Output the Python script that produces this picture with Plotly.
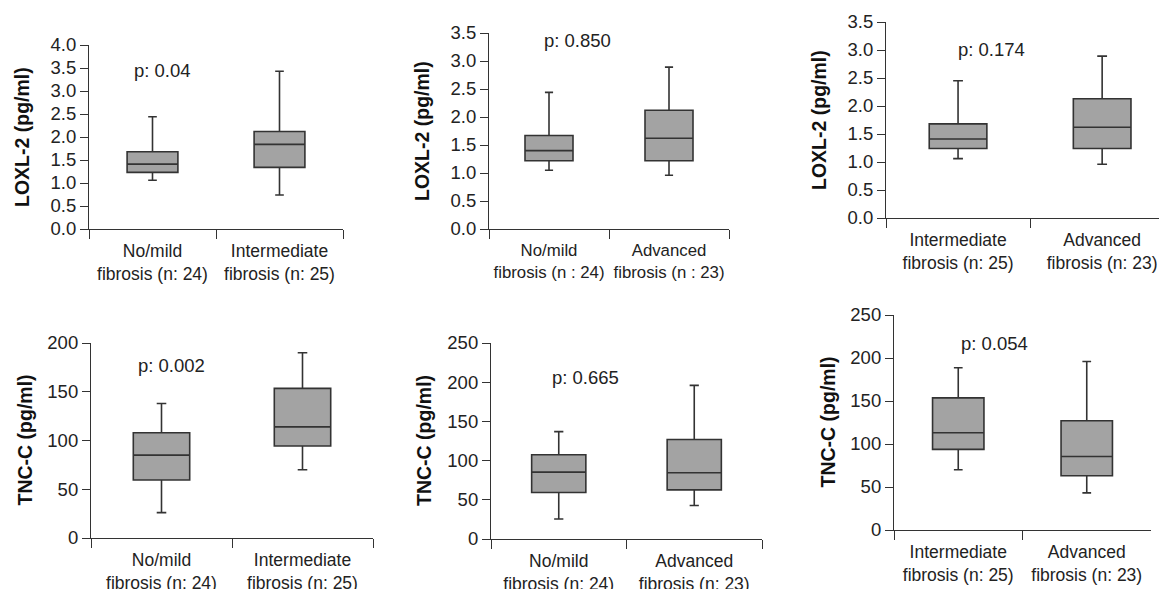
import plotly.graph_objects as go

# ---------------- data ----------------
cats_nm_int = ["No/mild<br>fibrosis (n: 24)", "Intermediate<br>fibrosis (n: 25)"]
cats_nm_adv_top = ["No/mild<br>fibrosis (n : 24)", "Advanced<br>fibrosis (n : 23)"]
cats_nm_adv_bot = ["No/mild<br>fibrosis (n: 24)", "Advanced<br>fibrosis (n: 23)"]
cats_int_adv = ["Intermediate<br>fibrosis (n: 25)", "Advanced<br>fibrosis (n: 23)"]

# LOXL-2 (pg/ml)
loxl_a_low = [1.06, 0.74]
loxl_a_q1 = [1.23, 1.34]
loxl_a_med = [1.41, 1.84]
loxl_a_q3 = [1.68, 2.12]
loxl_a_high = [2.44, 3.43]

loxl_b_low = [1.05, 0.96]
loxl_b_q1 = [1.22, 1.22]
loxl_b_med = [1.40, 1.62]
loxl_b_q3 = [1.67, 2.12]
loxl_b_high = [2.44, 2.89]

loxl_c_low = [1.06, 0.96]
loxl_c_q1 = [1.24, 1.24]
loxl_c_med = [1.41, 1.62]
loxl_c_q3 = [1.68, 2.13]
loxl_c_high = [2.45, 2.89]

# TNC-C (pg/ml)
tnc_a_low = [26, 70]
tnc_a_q1 = [59.5, 94.4]
tnc_a_med = [85, 114]
tnc_a_q3 = [108, 153.5]
tnc_a_high = [138, 190]

tnc_b_low = [25.6, 42.7]
tnc_b_q1 = [59.3, 62.7]
tnc_b_med = [85.3, 84.5]
tnc_b_q3 = [107.5, 127]
tnc_b_high = [137, 196]

tnc_c_low = [70, 43.2]
tnc_c_q1 = [93.7, 63]
tnc_c_med = [113, 85.5]
tnc_c_q3 = [153.6, 127]
tnc_c_high = [188.6, 196]

p_texts = ["p: 0.04", "p: 0.850", "p: 0.174", "p: 0.002", "p: 0.665", "p: 0.054"]
p_y = [3.44, 3.37, 3.0, 177, 206.5, 216.6]
p_x = [0.075, 0.24, 0.23, 0.07, 0.20, 0.28]

loxl_ticks = [0.0, 0.5, 1.0, 1.5, 2.0, 2.5, 3.0, 3.5, 4.0]
tnc_ticks = [0, 50, 100, 150, 200, 250]

# ---------------- layout helpers ----------------
OFF = 8  # default page body margin of the browser
W, H = 1167 - OFF, 589 - OFF
FONT = "Liberation Sans, Arial, Helvetica, sans-serif"
LINE = "#333333"

panels = [
    dict(cats=cats_nm_int, low=loxl_a_low, q1=loxl_a_q1, med=loxl_a_med, q3=loxl_a_q3, high=loxl_a_high,
         yr=[0, 4.0], ticks=loxl_ticks[:9], title="LOXL-2 (pg/ml)", fmt=".1f",
         px=(89, 343), py=(45, 229), xr=[-0.5, 1.5], xfs=17.5),
    dict(cats=cats_nm_adv_top, low=loxl_b_low, q1=loxl_b_q1, med=loxl_b_med, q3=loxl_b_q3, high=loxl_b_high,
         yr=[0, 3.5], ticks=loxl_ticks[:8], title="LOXL-2 (pg/ml)", fmt=".1f",
         px=(489, 729), py=(33, 229), xr=[-0.5, 1.5], xfs=16.8),
    dict(cats=cats_int_adv, low=loxl_c_low, q1=loxl_c_q1, med=loxl_c_med, q3=loxl_c_q3, high=loxl_c_high,
         yr=[0, 3.5], ticks=loxl_ticks[:8], title="LOXL-2 (pg/ml)", fmt=".1f",
         px=(886, 1167), py=(22, 218), xr=[-0.5, 1.45], xfs=17.5),
    dict(cats=cats_nm_int, low=tnc_a_low, q1=tnc_a_q1, med=tnc_a_med, q3=tnc_a_q3, high=tnc_a_high,
         yr=[0, 200], ticks=tnc_ticks[:5], title="TNC-C (pg/ml)", fmt="d",
         px=(91, 373), py=(343, 538), xr=[-0.5, 1.5], xfs=17.5),
    dict(cats=cats_nm_adv_bot, low=tnc_b_low, q1=tnc_b_q1, med=tnc_b_med, q3=tnc_b_q3, high=tnc_b_high,
         yr=[0, 250], ticks=tnc_ticks, title="TNC-C (pg/ml)", fmt="d",
         px=(491, 762), py=(343, 539), xr=[-0.5, 1.5], xfs=17.5),
    dict(cats=cats_int_adv, low=tnc_c_low, q1=tnc_c_q1, med=tnc_c_med, q3=tnc_c_q3, high=tnc_c_high,
         yr=[0, 250], ticks=tnc_ticks, title="TNC-C (pg/ml)", fmt="d",
         px=(894, 1151), py=(315, 530), xr=[-0.5, 1.5], xfs=17.5),
]

fig = go.Figure()
annotations = []
layout = dict(
    width=W, height=H,
    margin=dict(l=0, r=0, t=0, b=0, autoexpand=False),
    paper_bgcolor="white", plot_bgcolor="white",
    showlegend=False,
    font=dict(family=FONT, size=16, color="#222222"),
)

for i, p in enumerate(panels):
    n = i + 1
    xa = "x" if n == 1 else f"x{n}"
    ya = "y" if n == 1 else f"y{n}"
    fig.add_trace(go.Box(
        x=p["cats"], q1=p["q1"], median=p["med"], q3=p["q3"],
        lowerfence=p["low"], upperfence=p["high"],
        xaxis=xa, yaxis=ya,
        width=0.4, whiskerwidth=0.17,
        fillcolor="#a3a3a3",
        line=dict(color=LINE, width=1.6),
        boxpoints=False, hoverinfo="skip",
    ))
    x0, x1 = p["px"][0] - OFF, min(p["px"][1] - OFF, W)
    y0, y1 = p["py"][0] - OFF, p["py"][1] - OFF
    xd = [x0 / W, x1 / W]
    yd = [1 - y1 / H, 1 - y0 / H]
    layout["xaxis" if n == 1 else f"xaxis{n}"] = dict(
        domain=xd, anchor=ya, type="category", range=p["xr"], automargin=False,
        tickson="boundaries", ticks="outside", ticklen=9, tickwidth=1.2, tickcolor=LINE,
        showline=True, linecolor=LINE, linewidth=1.2, showgrid=False, zeroline=False,
        tickangle=0, ticklabelstandoff=6,
        tickfont=dict(size=p["xfs"], family=FONT, color="#222222"),
        fixedrange=True,
    )
    layout["yaxis" if n == 1 else f"yaxis{n}"] = dict(
        domain=yd, anchor=xa, range=p["yr"], tickvals=p["ticks"], automargin=False,
        tickformat=p["fmt"], ticks="outside", ticklen=8, tickwidth=1.2, tickcolor=LINE,
        showline=True, linecolor=LINE, linewidth=1.2, showgrid=False, zeroline=False,
        tickfont=dict(size=18.5, family=FONT, color="#222222"),
        fixedrange=True,
    )
    annotations.append(dict(
        xref=xa, yref=ya, x=p_x[i], y=p_y[i], text=p_texts[i], showarrow=False,
        xanchor="center", yanchor="middle",
        font=dict(size=18.5, family=FONT, color="#222222"),
    ))
    annotations.append(dict(
        xref="paper", yref="paper", x=xd[0], y=(yd[0] + yd[1]) / 2,
        xshift=-67, text=f"<b>{p['title']}</b>", showarrow=False, textangle=-90,
        xanchor="center", yanchor="middle",
        font=dict(size=19.5, family=FONT, color="#111111"),
    ))

layout["annotations"] = annotations
fig.update_layout(**layout)
fig.write_html("out.html")
